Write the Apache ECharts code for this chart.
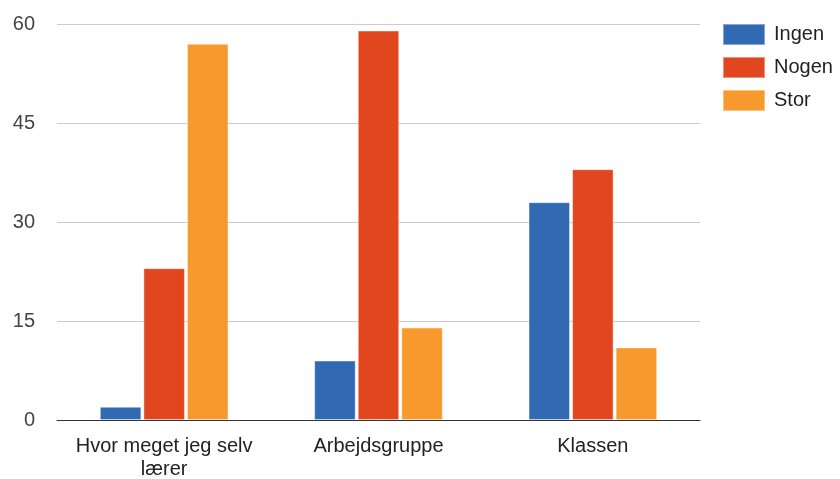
<!DOCTYPE html>
<html lang="da">
<head>
    <meta charset="UTF-8">
    <script src="https://cdn.jsdelivr.net/npm/echarts@6/dist/echarts.min.js"></script>
</head>
<body style="margin:0">
    <div id="chart" style="width:840px;height:479px;"></div>
    <script>
        var categories = ['Hvor meget jeg selv\nlærer', 'Arbejdsgruppe', 'Klassen']
        var ingen = [2, 9, 33]
        var nogen = [23, 59, 38]
        var stor = [57, 14, 11]
        var yTicks = [0, 15, 30, 45, 60]

        var colors = ['#3169b3', '#e2461f', '#f7992d']

        var myChart = echarts.init(document.getElementById('chart'))
        var option = {
            color: colors,
            textStyle: { fontFamily: 'Arial' },
            animation: false,
            legend: {
                orient: 'vertical',
                left: 722,
                top: 23,
                padding: 0,
                itemWidth: 42,
                itemHeight: 21,
                itemGap: 10,
                icon: 'rect',
                textStyle: { fontSize: 20, lineHeight: 21, color: '#222', padding: [0, 0, 0, 4] },
                data: ['Ingen', 'Nogen', 'Stor']
            },
            grid: { left: 57, right: 140, top: 24, bottom: 59, outerBoundsMode: 'none' },
            xAxis: {
                type: 'category',
                data: categories,
                axisTick: { show: false },
                axisLine: { lineStyle: { color: '#333', width: 1 } },
                axisLabel: { interval: 0, fontSize: 20, color: '#222', margin: 15, lineHeight: 23 }
            },
            yAxis: {
                type: 'value',
                min: yTicks[0],
                max: yTicks[yTicks.length - 1],
                interval: 15,
                axisLine: { show: false },
                axisTick: { show: false },
                splitLine: { lineStyle: { color: '#ccc' } },
                axisLabel: { fontSize: 20, color: '#444', margin: 22 }
            },
            series: [
                { name: 'Ingen', type: 'bar', data: ingen, barGap: '5%', barCategoryGap: '40%',
                  itemStyle: { borderColor: 'rgba(255,255,255,0.4)', borderWidth: 1 } },
                { name: 'Nogen', type: 'bar', data: nogen, barGap: '5%', barCategoryGap: '40%',
                  itemStyle: { borderColor: 'rgba(255,255,255,0.4)', borderWidth: 1 } },
                { name: 'Stor', type: 'bar', data: stor, barGap: '5%', barCategoryGap: '40%',
                  itemStyle: { borderColor: 'rgba(255,255,255,0.4)', borderWidth: 1 } }
            ]
        }
        myChart.setOption(option)
    </script>
</body>
</html>
